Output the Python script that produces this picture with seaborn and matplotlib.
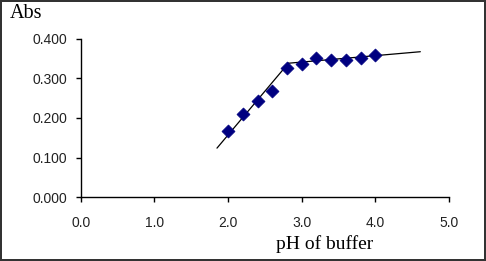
import matplotlib
matplotlib.use("Agg")
import matplotlib.pyplot as plt
import seaborn as sns
import pandas as pd

ph = [2.0, 2.2, 2.4, 2.6, 2.8, 3.0, 3.2, 3.4, 3.6, 3.8, 4.0]
absorb = [0.166, 0.210, 0.242, 0.267, 0.325, 0.336, 0.351, 0.346, 0.346, 0.350, 0.358]

fit1_x = [1.85, 2.82]
fit1_y = [0.124, 0.338]
fit2_x = [2.82, 4.61]
fit2_y = [0.338, 0.367]

x_ticks = [0.0, 1.0, 2.0, 3.0, 4.0, 5.0]
y_ticks = [0.0, 0.1, 0.2, 0.3, 0.4]

sns.set_theme(style="white")
plt.rcParams['font.family'] = ['Liberation Sans', 'DejaVu Sans']

fig = plt.figure(figsize=(4.86, 2.61), dpi=100, facecolor='white',
                 edgecolor='#333333', linewidth=1.5)
ax = fig.add_axes([0.166, 0.244, 0.758, 0.608])

df = pd.DataFrame({'pH': ph, 'Abs': absorb})
f1 = pd.DataFrame({'x': fit1_x, 'y': fit1_y})
f2 = pd.DataFrame({'x': fit2_x, 'y': fit2_y})

sns.lineplot(data=f1, x='x', y='y', ax=ax, color='black', linewidth=0.9)
sns.lineplot(data=f2, x='x', y='y', ax=ax, color='black', linewidth=0.9)
sns.scatterplot(data=df, x='pH', y='Abs', ax=ax, marker='D', s=44,
                color='#000080', edgecolor='#000080', linewidth=0.5, zorder=3)

ax.set_xlim(0, 5)
ax.set_ylim(0, 0.4)
ax.set_xticks(x_ticks)
ax.set_xticklabels([f"{v:.1f}" for v in x_ticks])
ax.set_yticks(y_ticks)
ax.set_yticklabels([f"{v:.3f}" for v in y_ticks])
ax.set_xlabel('')
ax.set_ylabel('')
for s in ['top', 'right']:
    ax.spines[s].set_visible(False)
for s in ['left', 'bottom']:
    ax.spines[s].set_color('black')
    ax.spines[s].set_linewidth(1.0)
ax.tick_params(axis='both', which='major', direction='out', length=3.5, width=1.0,
               color='black', labelsize=10, labelcolor='#222222',
               bottom=True, left=True)
ax.tick_params(axis='x', pad=10)
ax.tick_params(axis='y', pad=6)
ax.set_facecolor('white')

fig.text(10 / 486, 1 - 14 / 261, 'Abs', family=['Liberation Serif', 'DejaVu Serif'],
         fontsize=14.5, ha='left', va='center', color='black')
fig.text(325 / 486, 1 - 244 / 261, 'pH of buffer', family=['Liberation Serif', 'DejaVu Serif'],
         fontsize=14, ha='center', va='center', color='black')

fig.savefig('out.png', dpi=100, facecolor='white', edgecolor=fig.get_edgecolor())
